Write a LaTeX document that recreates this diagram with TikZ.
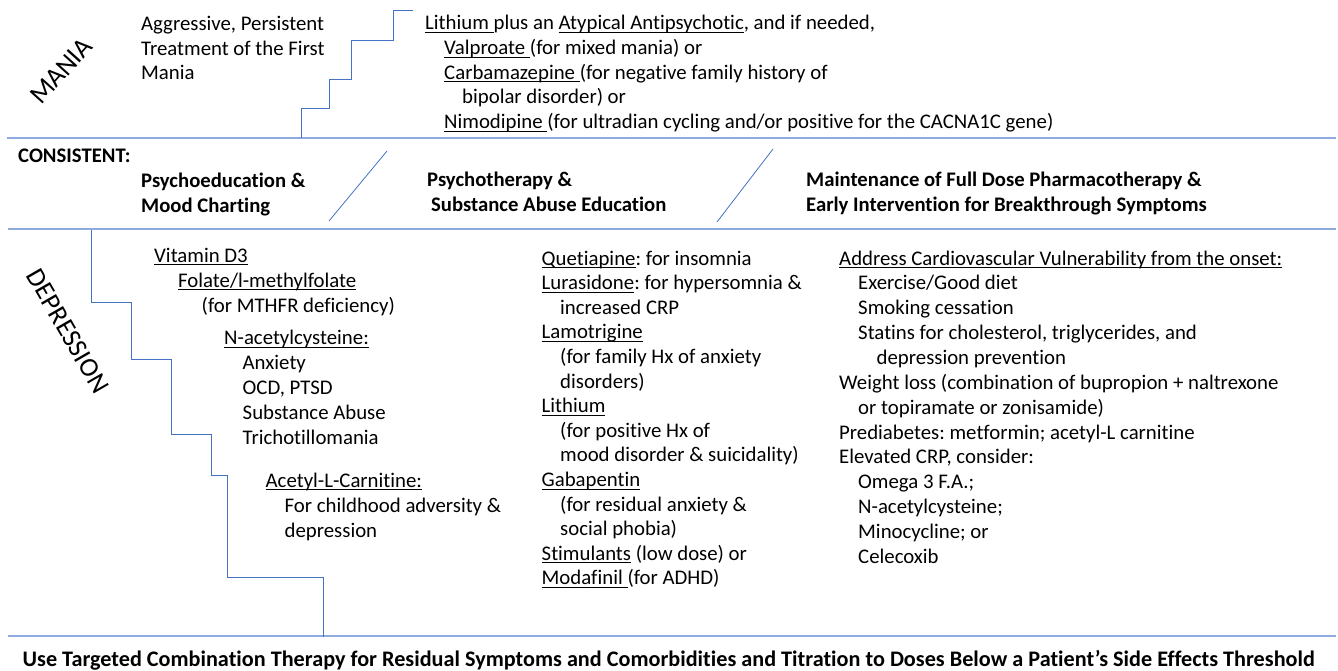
\documentclass[tikz,border=0pt]{standalone}
\usepackage{fontspec}
\setmainfont{Carlito}[Ligatures=CommonOff]
\frenchspacing
\definecolor{stair}{RGB}{68,114,196}
\definecolor{hline}{RGB}{143,170,220}
\newsavebox\ulbox
\newcommand\ul[1]{\sbox\ulbox{#1}\rlap{\rule[-3.2pt]{\wd\ulbox}{1pt}}\usebox\ulbox}
\begin{document}
\begin{tikzpicture}[x=1pt,y=-1pt,
  txt/.style={anchor=base west, inner sep=0pt, font=\fontsize{20.8}{24.6}\selectfont\frenchspacing},
  bld/.style={anchor=base west, inner sep=0pt, font=\fontsize{20.7}{24.6}\selectfont\bfseries\frenchspacing},
  bigbld/.style={anchor=base west, inner sep=0pt, font=\fontsize{22.2}{26}\selectfont\bfseries\frenchspacing},
  rot/.style={inner sep=0pt, font=\fontsize{27}{27}\selectfont},
  stairline/.style={draw=stair, line width=1pt},
  slash/.style={draw=stair, line width=0.8pt},
  sepline/.style={draw=hline, line width=1.5pt}]
\useasboundingbox (0,0) rectangle (1338,671);

% separator lines
\coordinate (h1a) at (7,138); \coordinate (h1b) at (1336,138);
\coordinate (h2a) at (8,229); \coordinate (h2b) at (1336,229);
\coordinate (h3a) at (8,636); \coordinate (h3b) at (1336,636);
\draw[sepline] (h1a) -- (h1b);
\draw[sepline] (h2a) -- (h2b);
\draw[sepline] (h3a) -- (h3b);

% mania staircase
\coordinate (ms0) at (301,138);
\coordinate (ms1) at (413,11);
\draw[stairline] (ms0) |- (329,109) |- (351,80) |- (393,41) |- (ms1);

% depression staircase
\coordinate (ds0) at (91,230);
\coordinate (ds1) at (323,637);
\draw[stairline] (ds0) |- (131,302) |- (171,359) |- (211,434) |- (227,475) |- (323,577) -- (ds1);

% slashes
\coordinate (s1a) at (387,151); \coordinate (s1b) at (329,221);
\coordinate (s2a) at (773,149); \coordinate (s2b) at (717,222);
\draw[slash] (s1a) -- (s1b);
\draw[slash] (s2a) -- (s2b);

% rotated labels
\node[rot, rotate=48] (mania) at (61,71) {MANIA};
\node[rot, rotate=-60] (depr) at (68,331) {DEPRESSION};

% mania text
\node[txt] (a1) at (141,31) {Aggressive, Persistent};
\node[txt] (a2) at (141,55.5) {Treatment of the First};
\node[txt] (a3) at (141,80) {Mania};

\node[txt] (m1) at (425,30) {\ul{Lithium }plus an \ul{Atypical Antipsychotic}, and if needed,};
\node[txt] (m2) at (444,54.6) {\ul{Valproate }(for mixed mania) or};
\node[txt] (m3) at (444,79.2) {\ul{Carbamazepine }(for negative family history of};
\node[txt] (m4) at (462,103.8) {bipolar disorder) or};
\node[txt] (m5) at (444,128.4) {\ul{Nimodipine }(for ultradian cycling and/or positive for the CACNA1C gene)};

% consistent
\node[bld] (c0) at (18,163) {CONSISTENT:};
\node[bld] (c1) at (141,187.5) {Psychoeducation \&};
\node[bld] (c2) at (141,212) {Mood Charting};
\node[bld] (c3) at (427,187) {Psychotherapy \&};
\node[bld] (c4) at (431,211.5) {Substance Abuse Education};
\node[bld] (c5) at (806,187) {Maintenance of Full Dose Pharmacotherapy \&};
\node[bld] (c6) at (806,211.5) {Early Intervention for Breakthrough Symptoms};

% depression column 1
\node[txt] (d1) at (154,262) {\ul{Vitamin D3}};
\node[txt] (d2) at (178,287) {\ul{Folate/l-methylfolate}};
\node[txt] (d3) at (201.5,312) {(for MTHFR deficiency)};
\node[txt] (d4) at (224,344.5) {\ul{N-acetylcysteine:}};
\node[txt] (d5) at (242.5,369.5) {Anxiety};
\node[txt] (d6) at (242.5,394.5) {OCD, PTSD};
\node[txt] (d7) at (242.5,419.5) {Substance Abuse};
\node[txt] (d8) at (242.5,444.5) {Trichotillomania};
\node[txt] (d9) at (265.5,487) {\ul{Acetyl-L-Carnitine:}};
\node[txt] (d10) at (284.5,512) {For childhood adversity \&};
\node[txt] (d11) at (284.5,537) {depression};

% depression column 2
\node[txt] (e1) at (541.5,265) {\ul{Quetiapine}: for insomnia};
\node[txt] (e2) at (541.5,289.6) {\ul{Lurasidone}: for hypersomnia \&};
\node[txt] (e3) at (560,314.2) {increased CRP};
\node[txt] (e4) at (541.5,338.8) {\ul{Lamotrigine}};
\node[txt] (e5) at (560,363.4) {(for family Hx of anxiety};
\node[txt] (e6) at (560,388) {disorders)};
\node[txt] (e7) at (541.5,412.6) {\ul{Lithium}};
\node[txt] (e8) at (560,437.2) {(for positive Hx of};
\node[txt] (e9) at (560,461.8) {mood disorder \& suicidality)};
\node[txt] (e10) at (541.5,486.4) {\ul{Gabapentin}};
\node[txt] (e11) at (560,511) {(for residual anxiety \&};
\node[txt] (e12) at (560,535.6) {social phobia)};
\node[txt] (e13) at (541.5,560.2) {\ul{Stimulants} (low dose) or};
\node[txt] (e14) at (541.5,584.8) {\ul{Modafinil }(for ADHD)};

% depression column 3
\node[txt] (f1) at (839,265) {\ul{Address Cardiovascular Vulnerability from the onset:}};
\node[txt] (f2) at (858,289.9) {Exercise/Good diet};
\node[txt] (f3) at (858,314.7) {Smoking cessation};
\node[txt] (f4) at (858,339.6) {Statins for cholesterol, triglycerides, and};
\node[txt] (f5) at (876.5,364.4) {depression prevention};
\node[txt] (f6) at (839,389.3) {Weight loss (combination of bupropion + naltrexone};
\node[txt] (f7) at (858,414.1) {or topiramate or zonisamide)};
\node[txt] (f8) at (839,439) {Prediabetes: metformin; acetyl-L carnitine};
\node[txt] (f9) at (839,463.9) {Elevated CRP, consider:};
\node[txt] (f10) at (858,488.7) {Omega 3 F.A.;};
\node[txt] (f11) at (858,513.6) {N-acetylcysteine;};
\node[txt] (f12) at (858,538.4) {Minocycline; or};
\node[txt] (f13) at (858,563.3) {Celecoxib};

% bottom
\node[bigbld] (bot) at (22.5,666.5) {Use Targeted Combination Therapy for Residual Symptoms and Comorbidities and Titration to Doses Below a Patient’s Side Effects Threshold};
\end{tikzpicture}
\end{document}
